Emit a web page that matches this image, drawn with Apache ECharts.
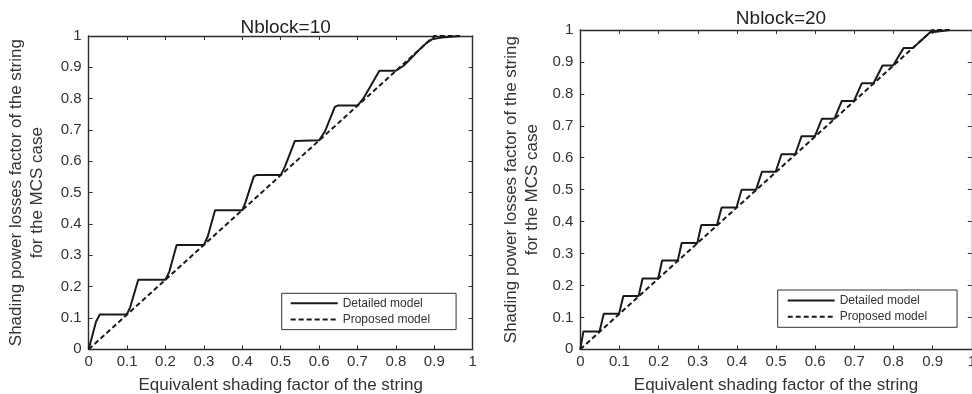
<!DOCTYPE html>
<html>
<head>
<meta charset="utf-8">
<script src="https://cdn.jsdelivr.net/npm/echarts@6/dist/echarts.min.js"></script>
<style>
  html, body { margin: 0; padding: 0; background: #fff; }
  #chart { width: 972px; height: 394px; }
</style>
</head>
<body>
<div id="chart"></div>
<script>
// Tick labels shared by both axes of both panels
const tickLabels = ['0', '0.1', '0.2', '0.3', '0.4', '0.5', '0.6', '0.7', '0.8', '0.9', '1'];

const titles = ['Nblock=10', 'Nblock=20'];
const seriesNames = ['Detailed model', 'Proposed model'];
const xName = 'Equivalent shading factor of the string';
const yName = 'Shading power losses factor of the string\nfor the MCS case';

// Nblock = 10 : detailed model (staircase) [x, y]
const detailed10 = [
  [0, 0], [0.019, 0.088], [0.029, 0.111], [0.099, 0.111],
  [0.108, 0.134], [0.129, 0.222], [0.2, 0.222],
  [0.21, 0.248], [0.229, 0.333], [0.3, 0.333],
  [0.31, 0.36], [0.329, 0.444], [0.4, 0.444],
  [0.408, 0.468], [0.43, 0.552], [0.437, 0.556], [0.5, 0.556],
  [0.511, 0.583], [0.537, 0.665], [0.542, 0.667], [0.6, 0.667],
  [0.615, 0.695], [0.641, 0.774], [0.648, 0.778], [0.7, 0.778],
  [0.715, 0.8], [0.757, 0.889], [0.8, 0.889],
  [0.82, 0.905], [0.84, 0.93], [0.86, 0.955], [0.88, 0.978],
  [0.895, 0.99], [0.92, 0.995], [0.967, 1.0]
];
// Nblock = 10 : proposed model
const proposed10 = [[0, 0], [0.9, 1], [0.967, 1]];

// Nblock = 20 : detailed model (staircase) [x, y]
const detailed20 = [
  [0, 0], [0.008, 0.056], [0.049, 0.056],
  [0.06, 0.111], [0.099, 0.111],
  [0.11, 0.167], [0.149, 0.167],
  [0.159, 0.222], [0.199, 0.222],
  [0.209, 0.278], [0.249, 0.278],
  [0.259, 0.333], [0.299, 0.333],
  [0.309, 0.389], [0.349, 0.389],
  [0.361, 0.444], [0.399, 0.444],
  [0.412, 0.5], [0.449, 0.5],
  [0.464, 0.556], [0.499, 0.556],
  [0.514, 0.611], [0.549, 0.611],
  [0.565, 0.667], [0.599, 0.667],
  [0.617, 0.722], [0.649, 0.722],
  [0.668, 0.778], [0.699, 0.778],
  [0.719, 0.833], [0.749, 0.833],
  [0.772, 0.889], [0.799, 0.889],
  [0.826, 0.944], [0.85, 0.944],
  [0.893, 0.992], [0.944, 1.0]
];
// Nblock = 20 : proposed model
const proposed20 = [[0, 0], [0.9, 1], [0.944, 1]];

const FONT = 'Liberation Sans, Arial, sans-serif';
const INK = '#333';
const LINE = '#1a1a1a';

const chart = echarts.init(document.getElementById('chart'), null, { renderer: 'canvas' });

// fixed plot rectangles: labels may run to the canvas edge without shrinking the plots
const grids = [
  { left: 88.7, top: 36, width: 384, height: 313.3, containLabel: false, outerBoundsMode: 'none' },
  { left: 580.3, top: 30, width: 391.5, height: 319.3, containLabel: false, outerBoundsMode: 'none' }
];
// distance from the left axis to the two-line y title, per panel
const yNameGaps = [41, 37];

function fmt(v) { return tickLabels[Math.round(v * 10)]; }

function labelStyle(margin) {
  return { show: true, formatter: fmt, color: INK, fontSize: 15, fontFamily: FONT, margin: margin };
}

function valueAxis(extra) {
  return Object.assign({
    type: 'value', min: 0, max: 1, interval: 0.1,
    splitLine: { show: false },
    axisLine: { show: true, onZero: false, lineStyle: { color: '#2a2a2a', width: 1.4 } },
    axisTick: { show: true, inside: true, length: 4, lineStyle: { color: INK, width: 1 } },
    axisLabel: { show: false }
  }, extra);
}

const xAxes = [], yAxes = [];
[0, 1].forEach(function (g) {
  xAxes.push(valueAxis({
    gridIndex: g, position: 'bottom',
    axisLabel: labelStyle(5),
    name: xName, nameLocation: 'middle', nameGap: 28,
    nameTextStyle: { color: INK, fontSize: 17, fontFamily: FONT }
  }));
  xAxes.push(valueAxis({ gridIndex: g, position: 'top' }));
  yAxes.push(valueAxis({
    gridIndex: g, position: 'left',
    axisLabel: labelStyle(7),
    name: yName, nameLocation: 'middle', nameGap: yNameGaps[g], nameRotate: 90,
    nameTextStyle: { color: INK, fontSize: 17, fontFamily: FONT, lineHeight: 21 }
  }));
  yAxes.push(valueAxis({ gridIndex: g, position: 'right' }));
});

function solid(data, g) {
  return {
    name: seriesNames[0], type: 'line', data: data,
    xAxisIndex: g * 2, yAxisIndex: g * 2,
    showSymbol: false, symbol: 'none', silent: true, animation: false, z: 3,
    lineStyle: { color: LINE, width: 2, type: 'solid' },
    itemStyle: { color: LINE }
  };
}
function dashed(data, g) {
  return {
    name: seriesNames[1], type: 'line', data: data,
    xAxisIndex: g * 2, yAxisIndex: g * 2,
    showSymbol: false, symbol: 'none', silent: true, animation: false, z: 2,
    lineStyle: { color: LINE, width: 2, type: [5, 3] },
    itemStyle: { color: LINE }
  };
}

function legendAt(left, top, padding) {
  return {
    orient: 'vertical', left: left, top: top, padding: padding,
    itemWidth: 47, itemHeight: 14, itemGap: 4.3,
    borderColor: INK, borderWidth: 1, backgroundColor: '#fff',
    selectedMode: false,
    itemStyle: { opacity: 0, borderWidth: 0 },
    data: seriesNames,
    textStyle: { color: INK, fontSize: 12, fontFamily: FONT }
  };
}

chart.setOption({
  animation: false,
  backgroundColor: '#fff',
  title: [
    { text: titles[0], left: 280.7, top: 13, textAlign: 'center',
      textStyle: { color: '#222', fontSize: 19, fontWeight: 'normal', fontFamily: FONT } },
    { text: titles[1], left: 776, top: 4, textAlign: 'center',
      textStyle: { color: '#222', fontSize: 19, fontWeight: 'normal', fontFamily: FONT } }
  ],
  legend: [
    legendAt(281.7, 293.3, [4, 26, 4, 8]),
    legendAt(777.7, 290, [4.5, 30, 4.5, 9])
  ],
  grid: grids,
  xAxis: xAxes,
  yAxis: yAxes,
  series: [
    solid(detailed10, 0), dashed(proposed10, 0),
    solid(detailed20, 1), dashed(proposed20, 1)
  ]
});
</script>
</body>
</html>
